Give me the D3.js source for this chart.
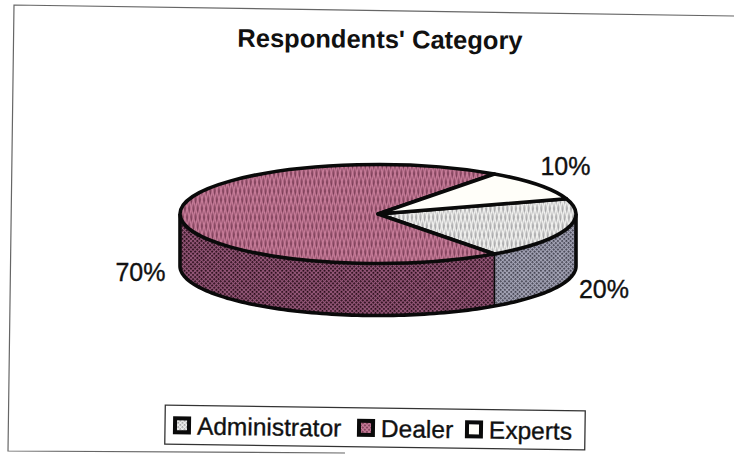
<!DOCTYPE html>
<html>
<head>
<meta charset="utf-8">
<script src="https://cdn.jsdelivr.net/npm/d3@7/dist/d3.min.js"></script>
<style>
html,body{margin:0;padding:0;background:#fff}
svg{display:block}
text{font-family:"Liberation Sans",Arial,sans-serif;fill:#111;stroke:#111;stroke-width:.35px}
</style>
</head>
<body>
<svg id="chart" width="734" height="456"></svg>
<script>
// Chart content
const chartTitle = "Respondents' Category";
const categories = ["Administrator", "Dealer", "Experts"];
const shares = [20, 70, 10];

// Dither fills: [base, dot] for the top face and the rim of each slice
const topFills = [["#f2f2f0", "#a4a4a6"], ["#c87d9a", "#7a3c56"], ["#fffef9", "#fffef9"]];
const rimFills = [["#a6a6b8", "#3f3f4c"], ["#96587a", "#240a15"], ["#fffef9", "#fffef9"]];

// Disc geometry
const cx = 378, cy = 214, rx = 198, ry = 49.5, depth = 52;
const firstSliceAngle = 72 * Math.PI / 180;

const svg = d3.select("#chart");
const defs = svg.append("defs");

function dither(id, [base, dot]) {
  const p = defs.append("pattern")
    .attr("id", id).attr("width", 3).attr("height", 3)
    .attr("patternUnits", "userSpaceOnUse")
    .attr("patternTransform", "rotate(45)");
  p.append("rect").attr("width", 3).attr("height", 3).attr("fill", base);
  p.append("rect").attr("width", 1.8).attr("height", 1.8).attr("fill", dot);
}
categories.forEach((c, i) => {
  dither("top" + i, topFills[i]);
  dither("rim" + i, rimFills[i]);
});

const slices = d3.pie().sort(null).value(d => d)
  .startAngle(firstSliceAngle)
  .endAngle(firstSliceAngle + 2 * Math.PI)(shares);

// Page frame, slightly skewed like a scanned sheet
svg.append("path")
  .attr("d", "M345,453 L8,451 L14,5 L734,16")
  .attr("fill", "none").attr("stroke", "#666").attr("stroke-width", 1.2);

// Title
svg.append("text").attr("x", 380).attr("y", 48)
  .attr("text-anchor", "middle").attr("font-size", 25.5).attr("font-weight", 700)
  .attr("transform", "rotate(0.5 380 42)")
  .style("stroke-width", "0")
  .text(chartTitle);

// Rim: only the part of each slice facing the viewer is visible
const px = a => cx + rx * Math.sin(a);
const py = a => cy - ry * Math.cos(a);
const frontStart = Math.PI / 2, frontEnd = 3 * Math.PI / 2;
const line = d3.line();

slices.forEach((s, i) => {
  const a0 = Math.max(s.startAngle, frontStart);
  const a1 = Math.min(s.endAngle, frontEnd);
  if (a1 <= a0) return;
  const angles = d3.range(0, 61).map(k => a0 + (a1 - a0) * k / 60);
  const pts = angles.map(a => [px(a), py(a)])
    .concat(angles.slice().reverse().map(a => [px(a), py(a) + depth]));
  svg.append("path")
    .attr("d", line(pts) + "Z")
    .attr("fill", `url(#rim${i})`)
    .attr("stroke", "#0a0a0a").attr("stroke-width", 1.5);
});

// Rim outline
const rimAngles = d3.range(0, 121).map(k => frontStart + (frontEnd - frontStart) * k / 120);
svg.append("path")
  .attr("d", line([[px(frontStart), py(frontStart)]].concat(rimAngles.map(a => [px(a), py(a) + depth]), [[px(frontEnd), py(frontEnd)]])))
  .attr("fill", "none").attr("stroke", "#0a0a0a").attr("stroke-width", 3.6);

// Top face: circular arcs squashed into an ellipse
const arc = d3.arc().innerRadius(0).outerRadius(rx);
svg.append("g")
  .attr("transform", `translate(${cx},${cy}) scale(1,${ry / rx})`)
  .selectAll("path").data(slices).join("path")
  .attr("d", arc)
  .attr("fill", (d, i) => `url(#top${i})`)
  .attr("stroke", "#0a0a0a").attr("stroke-width", 3.6)
  .attr("stroke-linejoin", "round")
  .attr("vector-effect", "non-scaling-stroke");

// Percentage labels placed outside the disc along each slice's mid angle
const labelReach = [1.2, 1.2, 1.17];
const labelDrop = [57, 58, -14];
svg.selectAll("text.pct").data(slices).join("text")
  .attr("class", "pct")
  .attr("text-anchor", "middle").attr("dominant-baseline", "central")
  .attr("font-size", 25)
  .attr("x", (d, i) => cx + labelReach[i] * rx * Math.sin((d.startAngle + d.endAngle) / 2))
  .attr("y", (d, i) => cy - labelReach[i] * ry * Math.cos((d.startAngle + d.endAngle) / 2) + labelDrop[i])
  .text(d => d.value + "%");

// Legend
const legend = svg.append("g").attr("transform", "rotate(0.8 375 428)");
legend.append("rect")
  .attr("x", 165).attr("y", 408).attr("width", 420).attr("height", 39)
  .attr("fill", "#fff").attr("stroke", "#333").attr("stroke-width", 1.3);
const swatchX = [175, 359, 467];
const labelX = [197, 381, 489];
categories.forEach((c, i) => {
  legend.append("rect")
    .attr("x", swatchX[i]).attr("y", 421).attr("width", 14).attr("height", 14)
    .attr("fill", `url(#top${i})`).attr("stroke", "#0a0a0a").attr("stroke-width", 4);
  legend.append("text")
    .attr("x", labelX[i]).attr("y", 437).attr("font-size", 24.5).text(c);
});
</script>
</body>
</html>
